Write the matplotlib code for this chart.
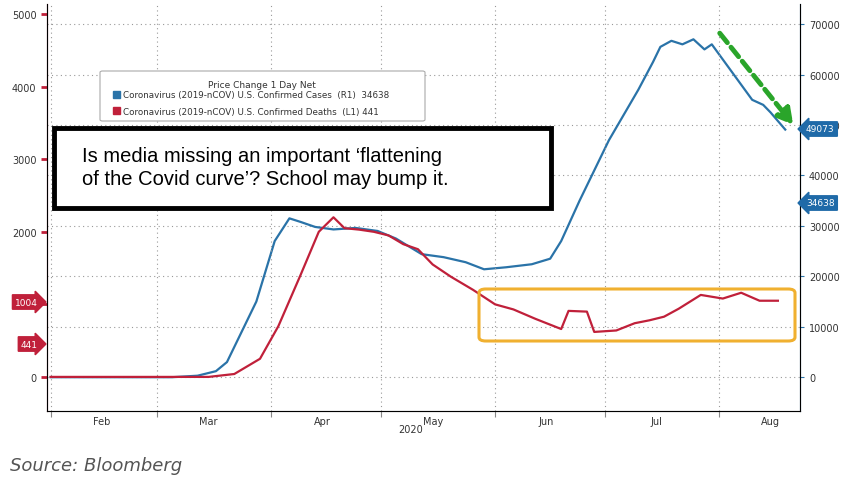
import numpy as np
import matplotlib.pyplot as plt
import matplotlib.dates as mdates
from matplotlib.patches import FancyBboxPatch
import datetime as dt

# cases (right axis), 7-day avg
case_dates = ['2020-02-01', '2020-03-05', '2020-03-12', '2020-03-17', '2020-03-20', '2020-03-23',
              '2020-03-28', '2020-04-02', '2020-04-06', '2020-04-09', '2020-04-13', '2020-04-18',
              '2020-04-24', '2020-04-30', '2020-05-05', '2020-05-12', '2020-05-18', '2020-05-24',
              '2020-05-29', '2020-06-04', '2020-06-11', '2020-06-16', '2020-06-19', '2020-06-24',
              '2020-06-28', '2020-07-02', '2020-07-06', '2020-07-10', '2020-07-14', '2020-07-16',
              '2020-07-19', '2020-07-22', '2020-07-25', '2020-07-28', '2020-07-30', '2020-08-02',
              '2020-08-05', '2020-08-07', '2020-08-10', '2020-08-13', '2020-08-15', '2020-08-19']
cases = [0, 0, 300, 1200, 3000, 7500, 15000, 27000, 31500, 30800, 29800, 29300,
         29600, 29000, 27500, 24400, 23800, 22800, 21400, 21800, 22400, 23500, 27000, 35000,
         41000, 47000, 52000, 57000, 62500, 65500, 66700, 66000, 67000, 65000, 66000, 63000,
         60000, 58000, 55000, 54000, 52500, 49100]

death_dates = ['2020-02-01', '2020-03-15', '2020-03-22', '2020-03-29', '2020-04-03', '2020-04-09',
               '2020-04-14', '2020-04-18', '2020-04-21', '2020-04-25', '2020-04-29', '2020-05-03',
               '2020-05-07', '2020-05-11', '2020-05-15', '2020-05-20', '2020-05-26', '2020-06-01',
               '2020-06-06', '2020-06-12', '2020-06-19', '2020-06-21', '2020-06-26', '2020-06-28',
               '2020-07-04', '2020-07-09', '2020-07-13', '2020-07-17', '2020-07-21', '2020-07-27',
               '2020-08-02', '2020-08-07', '2020-08-12', '2020-08-17']
deaths = [0, 0, 40, 250, 700, 1400, 2000, 2200, 2050, 2030, 2000, 1950,
          1830, 1760, 1550, 1380, 1200, 1000, 930, 800, 660, 910, 900, 620,
          640, 740, 780, 830, 940, 1130, 1080, 1160, 1050, 1050]

months = ['Feb', 'Mar', 'Apr', 'May', 'Jun', 'Jul', 'Aug']
case_ticks = [0, 10000, 20000, 30000, 40000, 50000, 60000, 70000]
death_ticks = [0, 1000, 2000, 3000, 4000, 5000]

cd = [dt.datetime.fromisoformat(d) for d in case_dates]
dd = [dt.datetime.fromisoformat(d) for d in death_dates]

fig = plt.figure(figsize=(8.51, 4.85), dpi=100)
ax = fig.add_axes([0.0552, 0.1505, 0.8848, 0.8392])
ax2 = ax.twinx()

ax2.plot(cd, cases, color='#2a73a8', lw=1.6)
ax.plot(dd, deaths, color='#c0203a', lw=1.6, zorder=3)
ax.set_zorder(ax2.get_zorder() + 1)
ax.patch.set_visible(False)

ax.set_xlim(dt.datetime(2020, 1, 31), dt.datetime(2020, 8, 23))
ax.set_ylim(-470, 5140)
ax2.set_ylim(-6700, 74000)
ax.set_yticks(death_ticks)
ax2.set_yticks(case_ticks)
ax.tick_params(axis='y', colors='#c0203a', labelcolor='#333333', labelsize=7, length=4, width=2)
ax2.tick_params(axis='y', colors='#2a73a8', labelcolor='#333333', labelsize=7, length=3)
ax.set_yticklabels([str(t) for t in death_ticks], fontsize=7)
ax2.set_yticklabels([str(t) for t in case_ticks], fontsize=7)

# month boundaries as grid, labels mid-month
ax.xaxis.set_major_locator(mdates.MonthLocator())
ax.xaxis.set_major_formatter(plt.NullFormatter())
ax.xaxis.set_minor_locator(mdates.MonthLocator(bymonthday=15))
ax.xaxis.set_minor_formatter(mdates.DateFormatter('%b'))
ax.tick_params(axis='x', which='minor', length=0, labelsize=7, labelcolor='#333333')
ax.tick_params(axis='x', which='major', length=4, color='#888888')
ax.grid(True, axis='x', which='major', ls=(0, (1, 3)), color='#999999', lw=0.8)
ax2.grid(True, axis='y', ls=(0, (1, 3)), color='#999999', lw=0.8)
for s in ['top']:
    ax.spines[s].set_visible(False)
    ax2.spines[s].set_visible(False)
ax2.spines['left'].set_color('#c0203a')
ax2.spines['right'].set_color('#2a73a8')
ax2.spines['bottom'].set_color('#888888')
fig.text(0.482, 0.107, '2020', fontsize=7, color='#333333', ha='center')

# legend box
fig.patches.append(FancyBboxPatch((100 / 851, 1 - 122 / 485), 325 / 851, 50 / 485,
                                  boxstyle='round,pad=0,rounding_size=0.003', transform=fig.transFigure,
                                  fc='white', ec='#aaaaaa', lw=0.8, zorder=5))
fig.text(262 / 851, 1 - 86 / 485, 'Price Change 1 Day Net', fontsize=6.5, ha='center', va='center', color='#333333', zorder=6)
fig.patches.append(plt.Rectangle((113 / 851, 1 - 99 / 485), 7 / 851, 7 / 485, transform=fig.transFigure, color='#2a73a8', zorder=6))
fig.patches.append(plt.Rectangle((113 / 851, 1 - 115 / 485), 7 / 851, 7 / 485, transform=fig.transFigure, color='#c0203a', zorder=6))
fig.text(123 / 851, 1 - 96 / 485, 'Coronavirus (2019-nCOV) U.S. Confirmed Cases  (R1)  34638', fontsize=6.3, va='center', color='#333333', zorder=6)
fig.text(123 / 851, 1 - 112 / 485, 'Coronavirus (2019-nCOV) U.S. Confirmed Deaths  (L1) 441', fontsize=6.3, va='center', color='#333333', zorder=6)

# callout box
fig.patches.append(plt.Rectangle((54 / 851, 1 - 209 / 485), 497 / 851, 80 / 485, transform=fig.transFigure,
                                 fc='white', ec='black', lw=3.5, zorder=7))
fig.text(82 / 851, 1 - 168 / 485, 'Is media missing an important \u2018flattening\nof the Covid curve\u2019? School may bump it.',
         fontsize=14.5, va='center', ha='left', linespacing=1.25, zorder=8, family='Liberation Sans')

# orange highlight box
fig.patches.append(FancyBboxPatch((479 / 851, 1 - 342 / 485), 316 / 851, 52 / 485,
                                  boxstyle='round,pad=0,rounding_size=0.008', transform=fig.transFigure,
                                  fc='none', ec='#f0b030', lw=2.2, zorder=6))

# green dashed arrow
ax.annotate('', xy=(795 / 851, 1 - 128 / 485), xytext=(718 / 851, 1 - 32 / 485),
            xycoords='figure fraction', textcoords='figure fraction',
            arrowprops=dict(arrowstyle='-|>,head_width=0.5,head_length=0.9', color='#2aa52a',
                            lw=3.5, ls=(0, (2.5, 1.2))))

# value tags (cover the tick label beneath, as in the terminal)
def tag(x, y, txt, col, side):
    fig.text(x / 851, 1 - y / 485, txt, fontsize=6.5, color='white', va='center',
             ha='left' if side == 'r' else 'right',
             bbox=dict(boxstyle='larrow,pad=0.3' if side == 'r' else 'rarrow,pad=0.3', fc=col, ec=col),
             zorder=9)

tag(806, 130, '49073', '#1f6aa8', 'r')
tag(806, 204, '34638', '#1f6aa8', 'r')
tag(38, 303, '1004', '#c0203a', 'l')
tag(38, 345, '441', '#c0203a', 'l')

fig.text(10 / 851, 1 - 466 / 485, 'Source: Bloomberg', fontsize=13, style='italic', color='#555555', va='center')

plt.savefig('out.png', dpi=100)
